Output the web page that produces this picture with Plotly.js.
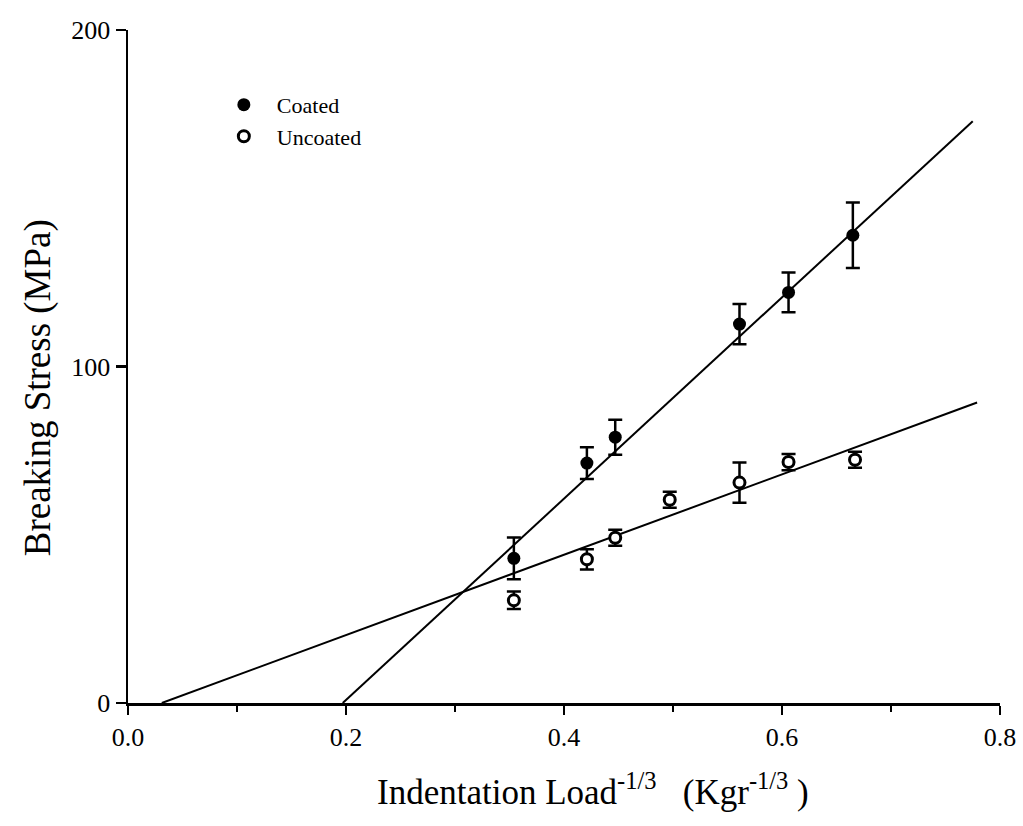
<!DOCTYPE html>
<html>
<head>
<meta charset="utf-8">
<script src="https://cdn.plot.ly/plotly-3.0.1.min.js"></script>
<style>html,body{margin:0;padding:0;background:#fff;}#chart{width:1023px;height:826px;}</style>
</head>
<body>
<div id="chart"></div>
<script>
// Data
var coatedX = [0.354, 0.421, 0.447, 0.561, 0.606, 0.665];
var coatedY = [43.0, 71.3, 79.0, 112.6, 122.0, 139.0];
var coatedErr = [6.2, 4.7, 5.2, 6.0, 5.9, 9.7];

var uncoatedX = [0.354, 0.421, 0.447, 0.497, 0.561, 0.606, 0.667];
var uncoatedY = [30.5, 42.7, 49.1, 60.4, 65.5, 71.6, 72.3];
var uncoatedErr = [2.6, 3.0, 2.4, 2.4, 6.0, 2.4, 2.4];

var coatedFitX = [0.197, 0.775];
var coatedFitY = [0, 172.9];
var uncoatedFitX = [0.031, 0.779];
var uncoatedFitY = [0, 89.3];

var xTickVals = [0, 0.2, 0.4, 0.6, 0.8];
var xTickText = ['0.0', '0.2', '0.4', '0.6', '0.8'];
var yTickVals = [0, 100, 200];
var yTickText = ['0', '100', '200'];

var serif = 'Liberation Serif, Times New Roman, serif';

var traces = [
  {x: coatedFitX, y: coatedFitY, mode: 'lines', line: {color: 'black', width: 2}, showlegend: false, hoverinfo: 'skip'},
  {x: uncoatedFitX, y: uncoatedFitY, mode: 'lines', line: {color: 'black', width: 2}, showlegend: false, hoverinfo: 'skip'},
  {x: coatedX, y: coatedY, name: 'Coated', mode: 'markers',
   marker: {symbol: 'circle', size: 13, color: 'black'},
   error_y: {type: 'data', array: coatedErr, visible: true, color: 'black', thickness: 2.5, width: 7}},
  {x: uncoatedX, y: uncoatedY, name: 'Uncoated', mode: 'markers',
   marker: {symbol: 'circle', size: 11, color: 'white', line: {color: 'black', width: 3}},
   error_y: {type: 'data', array: uncoatedErr, visible: true, color: 'black', thickness: 2.5, width: 7}}
];

var layout = {
  width: 1023, height: 826,
  margin: {l: 128, r: 23, t: 30, b: 123},
  paper_bgcolor: 'white', plot_bgcolor: 'white',
  font: {family: serif, color: 'black', size: 24},
  showlegend: true,
  legend: {x: 0.095, y: 0.92, xanchor: 'left', yanchor: 'top', bgcolor: 'rgba(0,0,0,0)',
           font: {family: serif, size: 22, color: 'black'}, itemwidth: 56, tracegroupgap: 0},
  xaxis: {range: [0, 0.8], tickvals: xTickVals, ticktext: xTickText,
          showgrid: false, zeroline: false, showline: true, linecolor: 'black', linewidth: 2.5,
          ticks: 'outside', ticklen: 9, tickwidth: 2.5, tickcolor: 'black',
          minor: {tickvals: [0.1, 0.3, 0.5, 0.7], ticks: 'outside', ticklen: 6, tickwidth: 2, tickcolor: 'black', showgrid: false},
          tickfont: {family: serif, size: 26, color: 'black'}},
  yaxis: {range: [0, 200], tickvals: yTickVals, ticktext: yTickText,
          showgrid: false, zeroline: false, showline: true, linecolor: 'black', linewidth: 2.5,
          ticks: 'outside', ticklen: 10, tickwidth: 2.5, tickcolor: 'black',
          tickfont: {family: serif, size: 26, color: 'black'}},
  annotations: [
    {text: 'Breaking Stress (MPa)', xref: 'paper', yref: 'paper', x: -0.103, y: 0.468,
     xanchor: 'center', yanchor: 'middle', textangle: -90, showarrow: false,
     font: {family: serif, size: 37, color: 'black'}},
    {text: 'Indentation Load<sup>-1/3</sup>   (Kgr<sup>-1/3</sup> )', xref: 'paper', yref: 'paper',
     x: 0.533, y: -0.129, xanchor: 'center', yanchor: 'middle', showarrow: false,
     font: {family: serif, size: 35, color: 'black'}}
  ]
};

Plotly.newPlot('chart', traces, layout, {displayModeBar: false, staticPlot: true});
</script>
</body>
</html>
